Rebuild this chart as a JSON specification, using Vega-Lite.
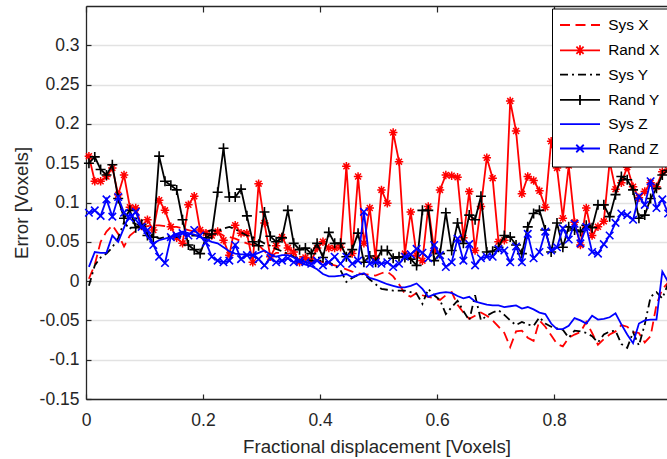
{
  "$schema": "https://vega.github.io/schema/vega-lite/v6.json",
  "width": 581,
  "height": 393,
  "autosize": "none",
  "padding": {"left": 86, "top": 6, "right": 0, "bottom": 60},
  "background": "white",
  "config": {
    "view": {"stroke": null},
    "font": "Liberation Sans",
    "axis": {"labelFont": "Liberation Sans", "titleFont": "Liberation Sans", "labelFontSize": 17.5, "titleFontSize": 18.7, "titleFontWeight": "normal", "labelColor": "#262626", "titleColor": "#262626", "domainColor": "#262626", "tickColor": "#262626", "domainWidth": 1.3, "tickWidth": 1.2, "gridColor": "#e2e2e2", "gridWidth": 1.4}
  },
  "data": {"values": [
    {"x":0.005,"Sys X":0.003,"Rand X":0.159,"Sys Y":-0.006,"Rand Y":0.150,"Sys Z":0.018,"Rand Z":0.087},
    {"x":0.015,"Sys X":0.021,"Rand X":0.127,"Sys Y":0.020,"Rand Y":0.158,"Sys Z":0.037,"Rand Z":0.090},
    {"x":0.025,"Sys X":0.050,"Rand X":0.127,"Sys Y":0.030,"Rand Y":0.142,"Sys Z":0.036,"Rand Z":0.083},
    {"x":0.035,"Sys X":0.063,"Rand X":0.133,"Sys Y":0.035,"Rand Y":0.135,"Sys Z":0.036,"Rand Z":0.104},
    {"x":0.045,"Sys X":0.071,"Rand X":0.144,"Sys Y":0.043,"Rand Y":0.148,"Sys Z":0.058,"Rand Z":0.082},
    {"x":0.055,"Sys X":0.060,"Rand X":0.110,"Sys Y":0.055,"Rand Y":0.105,"Sys Z":0.050,"Rand Z":0.107},
    {"x":0.065,"Sys X":0.044,"Rand X":0.135,"Sys Y":0.075,"Rand Y":0.080,"Sys Z":0.068,"Rand Z":0.087},
    {"x":0.075,"Sys X":0.058,"Rand X":0.094,"Sys Y":0.066,"Rand Y":0.090,"Sys Z":0.086,"Rand Z":0.080},
    {"x":0.085,"Sys X":0.064,"Rand X":0.093,"Sys Y":0.080,"Rand Y":0.068,"Sys Z":0.078,"Rand Z":0.088},
    {"x":0.095,"Sys X":0.068,"Rand X":0.070,"Sys Y":0.078,"Rand Y":0.072,"Sys Z":0.069,"Rand Z":0.069},
    {"x":0.105,"Sys X":0.070,"Rand X":0.078,"Sys Y":0.063,"Rand Y":0.058,"Sys Z":0.056,"Rand Z":0.065},
    {"x":0.115,"Sys X":0.071,"Rand X":0.065,"Sys Y":0.058,"Rand Y":0.056,"Sys Z":0.048,"Rand Z":0.046},
    {"x":0.125,"Sys X":0.071,"Rand X":0.103,"Sys Y":0.054,"Rand Y":0.159,"Sys Z":0.052,"Rand Z":0.031},
    {"x":0.135,"Sys X":0.070,"Rand X":0.090,"Sys Y":0.056,"Rand Y":0.127,"Sys Z":0.054,"Rand Z":0.023},
    {"x":0.145,"Sys X":0.069,"Rand X":0.069,"Sys Y":0.058,"Rand Y":0.122,"Sys Z":0.056,"Rand Z":0.056},
    {"x":0.155,"Sys X":0.069,"Rand X":0.055,"Sys Y":0.056,"Rand Y":0.116,"Sys Z":0.060,"Rand Z":0.058},
    {"x":0.165,"Sys X":0.067,"Rand X":0.048,"Sys Y":0.057,"Rand Y":0.078,"Sys Z":0.063,"Rand Z":0.061},
    {"x":0.175,"Sys X":0.065,"Rand X":0.097,"Sys Y":0.058,"Rand Y":0.046,"Sys Z":0.061,"Rand Z":0.058},
    {"x":0.185,"Sys X":0.063,"Rand X":0.108,"Sys Y":0.058,"Rand Y":0.040,"Sys Z":0.059,"Rand Z":0.065},
    {"x":0.195,"Sys X":0.061,"Rand X":0.065,"Sys Y":0.058,"Rand Y":0.035,"Sys Z":0.056,"Rand Z":0.058},
    {"x":0.205,"Sys X":0.063,"Rand X":0.061,"Sys Y":0.062,"Rand Y":0.055,"Sys Z":0.053,"Rand Z":0.049},
    {"x":0.215,"Sys X":0.065,"Rand X":0.058,"Sys Y":0.065,"Rand Y":0.060,"Sys Z":0.050,"Rand Z":0.031},
    {"x":0.225,"Sys X":0.062,"Rand X":0.063,"Sys Y":0.063,"Rand Y":0.113,"Sys Z":0.048,"Rand Z":0.026},
    {"x":0.235,"Sys X":0.058,"Rand X":0.052,"Sys Y":0.067,"Rand Y":0.169,"Sys Z":0.043,"Rand Z":0.024},
    {"x":0.245,"Sys X":0.056,"Rand X":0.033,"Sys Y":0.069,"Rand Y":0.107,"Sys Z":0.038,"Rand Z":0.026},
    {"x":0.255,"Sys X":0.054,"Rand X":0.071,"Sys Y":0.066,"Rand Y":0.107,"Sys Z":0.035,"Rand Z":0.046},
    {"x":0.265,"Sys X":0.051,"Rand X":0.061,"Sys Y":0.062,"Rand Y":0.117,"Sys Z":0.034,"Rand Z":0.028},
    {"x":0.275,"Sys X":0.048,"Rand X":0.061,"Sys Y":0.058,"Rand Y":0.083,"Sys Z":0.034,"Rand Z":0.033},
    {"x":0.285,"Sys X":0.046,"Rand X":0.024,"Sys Y":0.056,"Rand Y":0.050,"Sys Z":0.033,"Rand Z":0.033},
    {"x":0.295,"Sys X":0.046,"Rand X":0.124,"Sys Y":0.052,"Rand Y":0.045,"Sys Z":0.036,"Rand Z":0.028},
    {"x":0.305,"Sys X":0.038,"Rand X":0.074,"Sys Y":0.048,"Rand Y":0.088,"Sys Z":0.039,"Rand Z":0.020},
    {"x":0.315,"Sys X":0.031,"Rand X":0.031,"Sys Y":0.045,"Rand Y":0.057,"Sys Z":0.034,"Rand Z":0.029},
    {"x":0.325,"Sys X":0.036,"Rand X":0.045,"Sys Y":0.041,"Rand Y":0.050,"Sys Z":0.031,"Rand Z":0.024},
    {"x":0.335,"Sys X":0.036,"Rand X":0.056,"Sys Y":0.038,"Rand Y":0.055,"Sys Z":0.033,"Rand Z":0.026},
    {"x":0.345,"Sys X":0.035,"Rand X":0.042,"Sys Y":0.035,"Rand Y":0.090,"Sys Z":0.033,"Rand Z":0.029},
    {"x":0.355,"Sys X":0.035,"Rand X":0.037,"Sys Y":0.031,"Rand Y":0.048,"Sys Z":0.030,"Rand Z":0.024},
    {"x":0.365,"Sys X":0.031,"Rand X":0.024,"Sys Y":0.028,"Rand Y":0.040,"Sys Z":0.024,"Rand Z":0.026},
    {"x":0.375,"Sys X":0.030,"Rand X":0.030,"Sys Y":0.026,"Rand Y":0.042,"Sys Z":0.021,"Rand Z":0.024},
    {"x":0.385,"Sys X":0.028,"Rand X":0.026,"Sys Y":0.026,"Rand Y":0.035,"Sys Z":0.019,"Rand Z":0.022},
    {"x":0.395,"Sys X":0.026,"Rand X":0.042,"Sys Y":0.026,"Rand Y":0.048,"Sys Z":0.015,"Rand Z":0.026},
    {"x":0.405,"Sys X":0.024,"Rand X":0.050,"Sys Y":0.026,"Rand Y":0.030,"Sys Z":0.009,"Rand Z":0.020},
    {"x":0.415,"Sys X":0.022,"Rand X":0.042,"Sys Y":0.024,"Rand Y":0.062,"Sys Z":0.006,"Rand Z":0.024},
    {"x":0.425,"Sys X":0.020,"Rand X":0.042,"Sys Y":0.020,"Rand Y":0.048,"Sys Z":0.006,"Rand Z":0.031},
    {"x":0.435,"Sys X":0.018,"Rand X":0.043,"Sys Y":0.014,"Rand Y":0.048,"Sys Z":0.007,"Rand Z":0.022},
    {"x":0.445,"Sys X":0.015,"Rand X":0.146,"Sys Y":-0.001,"Rand Y":0.031,"Sys Z":0.009,"Rand Z":0.031},
    {"x":0.455,"Sys X":0.012,"Rand X":0.035,"Sys Y":0.004,"Rand Y":0.040,"Sys Z":0.005,"Rand Z":0.022},
    {"x":0.465,"Sys X":0.010,"Rand X":0.133,"Sys Y":0.008,"Rand Y":0.061,"Sys Z":0.008,"Rand Z":0.026},
    {"x":0.475,"Sys X":0.009,"Rand X":0.048,"Sys Y":0.009,"Rand Y":0.024,"Sys Z":0.010,"Rand Z":0.088},
    {"x":0.485,"Sys X":0.008,"Rand X":0.093,"Sys Y":0.002,"Rand Y":0.032,"Sys Z":0.004,"Rand Z":0.022},
    {"x":0.495,"Sys X":0.007,"Rand X":0.029,"Sys Y":-0.004,"Rand Y":0.024,"Sys Z":0.002,"Rand Z":0.024},
    {"x":0.505,"Sys X":0.010,"Rand X":0.116,"Sys Y":-0.010,"Rand Y":0.039,"Sys Z":-0.001,"Rand Z":0.022},
    {"x":0.515,"Sys X":0.012,"Rand X":0.099,"Sys Y":-0.011,"Rand Y":0.039,"Sys Z":-0.004,"Rand Z":0.024},
    {"x":0.525,"Sys X":0.006,"Rand X":0.189,"Sys Y":-0.012,"Rand Y":0.029,"Sys Z":-0.006,"Rand Z":0.018},
    {"x":0.535,"Sys X":-0.004,"Rand X":0.152,"Sys Y":-0.012,"Rand Y":0.031,"Sys Z":-0.008,"Rand Z":0.022},
    {"x":0.545,"Sys X":-0.016,"Rand X":0.035,"Sys Y":-0.012,"Rand Y":0.030,"Sys Z":-0.008,"Rand Z":0.031},
    {"x":0.555,"Sys X":-0.020,"Rand X":0.088,"Sys Y":-0.014,"Rand Y":0.028,"Sys Z":-0.006,"Rand Z":0.034},
    {"x":0.565,"Sys X":-0.015,"Rand X":0.033,"Sys Y":-0.016,"Rand Y":0.020,"Sys Z":-0.003,"Rand Z":0.041},
    {"x":0.575,"Sys X":-0.018,"Rand X":0.026,"Sys Y":-0.029,"Rand Y":0.090,"Sys Z":-0.010,"Rand Z":0.036},
    {"x":0.585,"Sys X":-0.020,"Rand X":0.095,"Sys Y":-0.010,"Rand Y":0.090,"Sys Z":-0.020,"Rand Z":0.029},
    {"x":0.595,"Sys X":-0.022,"Rand X":0.039,"Sys Y":-0.018,"Rand Y":0.026,"Sys Z":-0.017,"Rand Z":0.046},
    {"x":0.605,"Sys X":-0.024,"Rand X":0.116,"Sys Y":-0.024,"Rand Y":0.035,"Sys Z":-0.015,"Rand Z":0.033},
    {"x":0.615,"Sys X":-0.018,"Rand X":0.135,"Sys Y":-0.042,"Rand Y":0.087,"Sys Z":-0.014,"Rand Z":0.018},
    {"x":0.625,"Sys X":-0.014,"Rand X":0.134,"Sys Y":-0.033,"Rand Y":0.039,"Sys Z":-0.015,"Rand Z":0.024},
    {"x":0.635,"Sys X":-0.030,"Rand X":0.132,"Sys Y":-0.025,"Rand Y":0.074,"Sys Z":-0.019,"Rand Z":0.054},
    {"x":0.645,"Sys X":-0.040,"Rand X":0.055,"Sys Y":-0.038,"Rand Y":0.048,"Sys Z":-0.022,"Rand Z":0.026},
    {"x":0.655,"Sys X":-0.048,"Rand X":0.114,"Sys Y":-0.050,"Rand Y":0.084,"Sys Z":-0.020,"Rand Z":0.047},
    {"x":0.665,"Sys X":-0.044,"Rand X":0.039,"Sys Y":-0.018,"Rand Y":0.078,"Sys Z":-0.026,"Rand Z":0.020},
    {"x":0.675,"Sys X":-0.040,"Rand X":0.095,"Sys Y":-0.050,"Rand Y":0.108,"Sys Z":-0.028,"Rand Z":0.029},
    {"x":0.685,"Sys X":-0.044,"Rand X":0.157,"Sys Y":-0.044,"Rand Y":0.037,"Sys Z":-0.030,"Rand Z":0.031},
    {"x":0.695,"Sys X":-0.050,"Rand X":0.131,"Sys Y":-0.040,"Rand Y":0.038,"Sys Z":-0.031,"Rand Z":0.031},
    {"x":0.705,"Sys X":-0.058,"Rand X":0.050,"Sys Y":-0.037,"Rand Y":0.043,"Sys Z":-0.031,"Rand Z":0.041},
    {"x":0.715,"Sys X":-0.066,"Rand X":0.052,"Sys Y":-0.043,"Rand Y":0.058,"Sys Z":-0.033,"Rand Z":0.039},
    {"x":0.725,"Sys X":-0.084,"Rand X":0.229,"Sys Y":-0.050,"Rand Y":0.056,"Sys Z":-0.032,"Rand Z":0.024},
    {"x":0.735,"Sys X":-0.064,"Rand X":0.191,"Sys Y":-0.056,"Rand Y":0.046,"Sys Z":-0.031,"Rand Z":0.044},
    {"x":0.745,"Sys X":-0.063,"Rand X":0.111,"Sys Y":-0.052,"Rand Y":0.035,"Sys Z":-0.035,"Rand Z":0.024},
    {"x":0.755,"Sys X":-0.072,"Rand X":0.133,"Sys Y":-0.055,"Rand Y":0.069,"Sys Z":-0.033,"Rand Z":0.060},
    {"x":0.765,"Sys X":-0.076,"Rand X":0.128,"Sys Y":-0.057,"Rand Y":0.086,"Sys Z":-0.036,"Rand Z":0.029},
    {"x":0.775,"Sys X":-0.050,"Rand X":0.115,"Sys Y":-0.046,"Rand Y":0.090,"Sys Z":-0.040,"Rand Z":0.037},
    {"x":0.785,"Sys X":-0.058,"Rand X":0.094,"Sys Y":-0.054,"Rand Y":0.065,"Sys Z":-0.042,"Rand Z":0.063},
    {"x":0.795,"Sys X":-0.069,"Rand X":0.178,"Sys Y":-0.058,"Rand Y":0.037,"Sys Z":-0.054,"Rand Z":0.039},
    {"x":0.805,"Sys X":-0.080,"Rand X":0.144,"Sys Y":-0.060,"Rand Y":0.074,"Sys Z":-0.061,"Rand Z":0.043},
    {"x":0.815,"Sys X":-0.083,"Rand X":0.080,"Sys Y":-0.062,"Rand Y":0.043,"Sys Z":-0.061,"Rand Z":0.067},
    {"x":0.825,"Sys X":-0.072,"Rand X":0.147,"Sys Y":-0.072,"Rand Y":0.069,"Sys Z":-0.057,"Rand Z":0.053},
    {"x":0.835,"Sys X":-0.068,"Rand X":0.075,"Sys Y":-0.063,"Rand Y":0.065,"Sys Z":-0.047,"Rand Z":0.073},
    {"x":0.845,"Sys X":-0.065,"Rand X":0.046,"Sys Y":-0.064,"Rand Y":0.063,"Sys Z":-0.050,"Rand Z":0.048},
    {"x":0.855,"Sys X":-0.052,"Rand X":0.093,"Sys Y":-0.066,"Rand Y":0.071,"Sys Z":-0.054,"Rand Z":0.069},
    {"x":0.865,"Sys X":-0.066,"Rand X":0.058,"Sys Y":-0.070,"Rand Y":0.068,"Sys Z":-0.044,"Rand Z":0.037},
    {"x":0.875,"Sys X":-0.081,"Rand X":0.069,"Sys Y":-0.078,"Rand Y":0.097,"Sys Z":-0.049,"Rand Z":0.035},
    {"x":0.885,"Sys X":-0.074,"Rand X":0.076,"Sys Y":-0.068,"Rand Y":0.097,"Sys Z":-0.048,"Rand Z":0.047},
    {"x":0.895,"Sys X":-0.068,"Rand X":0.152,"Sys Y":-0.064,"Rand Y":0.082,"Sys Z":-0.046,"Rand Z":0.058},
    {"x":0.905,"Sys X":-0.064,"Rand X":0.117,"Sys Y":-0.063,"Rand Y":0.110,"Sys Z":-0.041,"Rand Z":0.074},
    {"x":0.915,"Sys X":-0.056,"Rand X":0.125,"Sys Y":-0.080,"Rand Y":0.133,"Sys Z":-0.055,"Rand Z":0.086},
    {"x":0.925,"Sys X":-0.058,"Rand X":0.145,"Sys Y":-0.085,"Rand Y":0.129,"Sys Z":-0.068,"Rand Z":0.084},
    {"x":0.935,"Sys X":-0.065,"Rand X":0.120,"Sys Y":-0.065,"Rand Y":0.116,"Sys Z":-0.079,"Rand Z":0.078},
    {"x":0.945,"Sys X":-0.066,"Rand X":0.106,"Sys Y":-0.082,"Rand Y":0.080,"Sys Z":-0.054,"Rand Z":0.108},
    {"x":0.955,"Sys X":-0.078,"Rand X":0.114,"Sys Y":-0.055,"Rand Y":0.084,"Sys Z":-0.050,"Rand Z":0.097},
    {"x":0.965,"Sys X":-0.070,"Rand X":0.125,"Sys Y":-0.020,"Rand Y":0.105,"Sys Z":-0.049,"Rand Z":0.127},
    {"x":0.975,"Sys X":-0.030,"Rand X":0.120,"Sys Y":-0.014,"Rand Y":0.118,"Sys Z":-0.049,"Rand Z":0.093},
    {"x":0.985,"Sys X":-0.010,"Rand X":0.139,"Sys Y":-0.022,"Rand Y":0.135,"Sys Z":0.012,"Rand Z":0.104},
    {"x":0.995,"Sys X":-0.002,"Rand X":0.141,"Sys Y":-0.003,"Rand Y":0.141,"Sys Z":-0.001,"Rand Z":0.086}
  ]},
  "transform": [{"fold": ["Sys X", "Rand X", "Sys Y", "Rand Y", "Sys Z", "Rand Z"], "as": ["series", "y"]}],
  "encoding": {
    "x": {"field": "x", "type": "quantitative", "scale": {"domain": [0, 0.993], "nice": false, "zero": false},
      "axis": {"orient": "bottom", "values": [0, 0.2, 0.4, 0.6, 0.8], "format": "~g", "grid": false, "tickSize": -5, "labelPadding": 17, "title": "Fractional displacement [Voxels]", "titleY": 53, "titleBaseline": "alphabetic", "titleAlign": "center", "labelFlush": false}},
    "y": {"field": "y", "type": "quantitative", "scale": {"domain": [-0.15, 0.35], "nice": false, "zero": false},
      "axis": {"values": [-0.15, -0.1, -0.05, 0, 0.05, 0.1, 0.15, 0.2, 0.25, 0.3], "labelExpr": "replace(format(datum.value, '~g'), '\u2212', '-')", "grid": true, "tickSize": -5, "labelPadding": 12, "title": "Error [Voxels]", "titleX": -59, "titleY": 196.5, "titleBaseline": "alphabetic", "titleAngle": 270, "titleAlign": "center", "labelFlush": false}}
  },
  "layer": [
    {
      "encoding": {
        "color": {"field": "series", "type": "nominal",
          "scale": {"domain": ["Sys X", "Rand X", "Sys Y", "Rand Y", "Sys Z", "Rand Z"], "range": ["#ff0000", "#ff0000", "#000000", "#000000", "#0000ff", "#0000ff"]},
          "legend": {"title": null, "orient": "none", "legendX": 466, "legendY": 2.5, "strokeColor": "#000000", "fillColor": "#ffffff", "padding": 8.8, "labelFont": "Liberation Sans", "labelFontSize": 15.4, "labelColor": "#000000", "labelExpr": "datum.label + '   '", "symbolSize": 100, "symbolStrokeWidth": 1.8, "symbolType": "stroke", "symbolOffset": 11.5, "labelOffset": 20.5, "rowPadding": 7.3,
            "encode": {"symbols": {"update": {
              "size": {"value": 100},
              "fill": {"value": "transparent"},
              "stroke": {"scale": "color", "field": "value"},
              "strokeWidth": {"value": 1.8},
              "shape": {"signal": "datum.value === 'Rand X' ? 'M-4,0L4,0M-1,0L1,0M0,-1L0,1M-0.72,-0.72L0.72,0.72M-0.72,0.72L0.72,-0.72' : datum.value === 'Rand Y' ? 'M-4,0L4,0M0,-1L0,1' : datum.value === 'Rand Z' ? 'M-4,0L4,0M-0.75,-0.75L0.75,0.75M-0.75,0.75L0.75,-0.75' : 'M-4,0L4,0'"},
              "strokeDash": {"signal": "datum.value === 'Sys X' ? [10, 5.5] : datum.value === 'Sys Y' ? [8, 4, 2, 4] : []"}
            }}}}
        }
      },
      "layer": [
        {"transform": [{"filter": "datum.series === 'Sys X'"}], "mark": {"type": "line", "strokeWidth": 1.8, "strokeDash": [10, 5.5]}},
        {"transform": [{"filter": "datum.series === 'Rand X'"}], "mark": {"type": "line", "strokeWidth": 1.8}},
        {"transform": [{"filter": "datum.series === 'Rand X'"}], "mark": {"type": "point", "filled": false, "opacity": 1, "strokeWidth": 1.5, "size": 72, "shape": "M-1,0L1,0M0,-1L0,1M-0.7,-0.7L0.7,0.7M-0.7,0.7L0.7,-0.7"}},
        {"transform": [{"filter": "datum.series === 'Sys Y'"}], "mark": {"type": "line", "strokeWidth": 1.8, "strokeDash": [8, 4, 2, 4]}},
        {"transform": [{"filter": "datum.series === 'Rand Y'"}], "mark": {"type": "line", "strokeWidth": 1.8}},
        {"transform": [{"filter": "datum.series === 'Rand Y'"}], "mark": {"type": "point", "filled": false, "opacity": 1, "strokeWidth": 1.6, "size": 100, "shape": "M-1,0L1,0M0,-1L0,1"}},
        {"transform": [{"filter": "datum.series === 'Sys Z'"}], "mark": {"type": "line", "strokeWidth": 1.8}},
        {"transform": [{"filter": "datum.series === 'Rand Z'"}], "mark": {"type": "line", "strokeWidth": 1.8}},
        {"transform": [{"filter": "datum.series === 'Rand Z'"}], "mark": {"type": "point", "filled": false, "opacity": 1, "strokeWidth": 1.6, "size": 100, "shape": "M-0.75,-0.75L0.75,0.75M-0.75,0.75L0.75,-0.75"}}
      ]
    },
    {
      "mark": {"type": "point", "opacity": 0},
      "encoding": {
        "x": {"field": "x", "type": "quantitative", "axis": {"orient": "top", "values": [0, 0.2, 0.4, 0.6, 0.8], "labels": false, "title": null, "grid": false, "tickSize": -6}}
      }
    }
  ],
  "resolve": {"axis": {"x": "independent"}}
}
